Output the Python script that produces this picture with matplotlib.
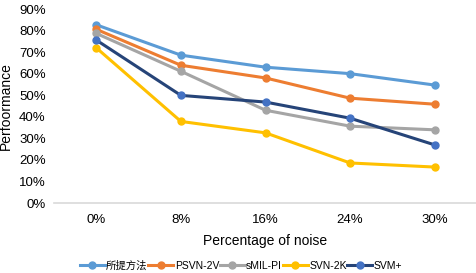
import matplotlib.pyplot as plt

plt.rcParams['font.family'] = ['Liberation Sans', 'Noto Sans CJK SC', 'DejaVu Sans']

# Noise levels and scores (%)
noise = ["0%", "8%", "16%", "24%", "30%"]
proposed = [82.8, 68.7, 63.1, 60.1, 54.8]
psvn_2v = [80.7, 64.0, 58.1, 48.7, 45.9]
smil_pi = [78.8, 61.2, 43.1, 35.7, 34.0]
svn_2k = [72.1, 37.9, 32.6, 18.6, 16.7]
svm_plus = [75.7, 50.0, 46.9, 39.4, 27.0]

series = [
    ("所提方法", proposed, "#5B9BD5", "#5B9BD5"),
    ("PSVN-2V", psvn_2v, "#ED7D31", "#ED7D31"),
    ("sMIL-PI", smil_pi, "#A5A5A5", "#A5A5A5"),
    ("SVN-2K", svn_2k, "#FFC000", "#FFC000"),
    ("SVM+", svm_plus, "#264478", "#4472C4"),
]

fig = plt.figure(figsize=(4.77, 2.73), dpi=100)
ax = fig.add_axes([54 / 477, 70 / 273, 423 / 477, (203 - 9.3) / 273])

x = range(len(noise))
for name, vals, lc, mc in series:
    ax.plot(x, vals, color=lc, lw=2.2, marker="o", ms=5,
            mfc=mc, mec=mc, label=name)

ax.set_xlim(-0.5, 4.5)
ax.set_ylim(0, 90)
ax.set_yticks(range(0, 91, 10))
ax.set_yticklabels([f"{v}%" for v in range(0, 91, 10)])
ax.set_xticks(list(x))
ax.set_xticklabels(noise)
ax.tick_params(length=0, labelsize=9.5, colors="#000000", pad=6)
ax.tick_params(axis="x", pad=8)

for s in ["top", "right", "left"]:
    ax.spines[s].set_visible(False)
ax.spines["bottom"].set_color("#D9D9D9")
ax.spines["bottom"].set_linewidth(1.2)

ax.set_ylabel("Perfoormance", fontsize=10, labelpad=4)
ax.set_xlabel("Percentage of noise", fontsize=10, labelpad=6)

fig.legend(loc="center", bbox_to_anchor=(0.505, 0.026), ncol=5,
           frameon=False, fontsize=7.5, handlelength=2.4, handletextpad=0.15,
           columnspacing=0.05, borderaxespad=0, borderpad=0)

fig.savefig("out.png", dpi=100)
